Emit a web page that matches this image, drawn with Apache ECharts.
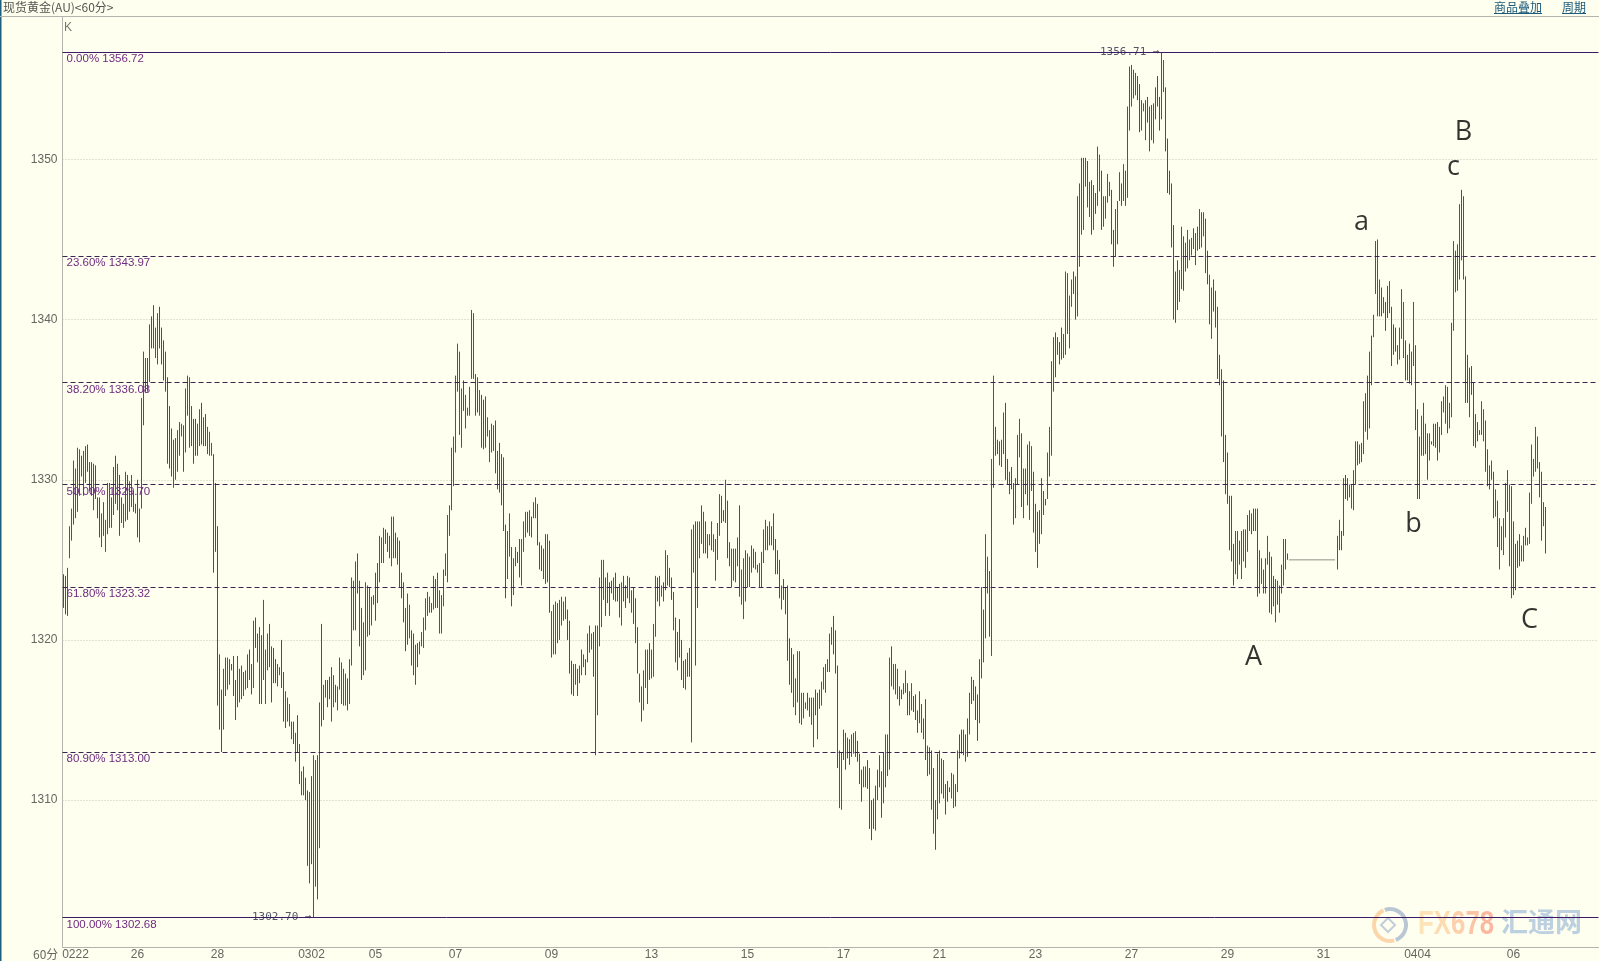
<!DOCTYPE html>
<html><head><meta charset="utf-8">
<style>html,body{margin:0;padding:0;background:#fffff0;overflow:hidden}#c{width:1599px;height:961px}</style>
<script src="https://cdn.jsdelivr.net/npm/echarts@6/dist/echarts.min.js"></script>
</head><body><div id="c"></div>
<script>
const highs = [
1324.1,1324.0,1324.5,1327.1,1328.2,1331.2,1330.7,1332,1331.9,1331.5,
1331.8,1332.1,1332.2,1331.1,1331.1,1331,1330.9,1328.9,1328.9,1327.9,
1328.6,1327.5,1329.8,1329.8,1328.9,1330.8,1331.5,1331,1330.3,1328.9,
1328.5,1330.5,1330.3,1329.9,1330.3,1329.3,1328.5,1330,1328.2,1335.1,
1338,1337.6,1337.6,1339.7,1340.2,1340.9,1339.5,1340.4,1340.8,1339.5,
1338.7,1338,1336.4,1334.6,1333.2,1332.5,1332.6,1333.1,1333.6,1333.5,
1333.4,1335.7,1336.5,1336.4,1334.6,1333.8,1333.8,1333.5,1334.4,1334.8,
1333.9,1334.1,1333.3,1333,1332.3,1331.6,1329.8,1327.1,1319.1,1316.9,
1318.2,1318.9,1318.9,1318.8,1318.5,1319,1317.5,1319,1318.2,1318.4,
1318,1318.1,1319.1,1319.4,1318.5,1321.2,1321.4,1320.4,1320.8,1320.3,
1322.5,1319.4,1320.4,1321,1319.6,1319.5,1318.8,1318.5,1318.3,1320,
1318,1316.8,1316.4,1316,1314.9,1314.9,1314.2,1315.3,1313.5,1311.8,
1312.1,1311.4,1310.6,1310.5,1311.5,1312.8,1312.5,1312.8,1316.1,1321,
1317.2,1317.5,1317.5,1317.7,1318.3,1317.8,1317.2,1317.1,1318.9,1318.6,
1318.2,1317.9,1317.6,1318.8,1323.9,1323.7,1324.9,1325.4,1323.7,1322,
1321.1,1323.6,1323.4,1323.3,1322.7,1322.8,1324.2,1324.8,1326.5,1326.4,
1327,1326.9,1326.7,1326.5,1327.7,1327.7,1326.7,1326.4,1326.2,1324.2,
1323.6,1322,1322.9,1322.2,1320.6,1320.4,1319.7,1319.8,1319.9,1320.5,
1321.4,1322.6,1323,1322.7,1322.3,1324,1323.8,1324.2,1323.1,1322.8,
1324.4,1325.4,1327.8,1328.4,1332,1332.7,1336.5,1338.5,1338,1335.7,
1336.2,1335.3,1334.5,1335.8,1340.6,1340.4,1336.6,1336.4,1335.6,1335.3,
1335,1335.2,1333.9,1333.1,1333.5,1333.4,1333.7,1331.8,1332.3,1331.6,
1331.4,1327.2,1326.8,1327.9,1325.8,1325.1,1325.8,1325.5,1326.3,1326.3,
1327.4,1328,1328,1328.1,1327.7,1328.6,1328.9,1328.5,1326.1,1325.9,
1325.7,1326.6,1326.6,1326.2,1321.8,1322.2,1322.4,1322.3,1322.5,1322.7,
1322.4,1322.7,1321.9,1321.2,1318.7,1318.5,1318.5,1318.2,1318.4,1319.4,
1319.1,1318.8,1320.4,1320.9,1320.4,1320.5,1320.9,1320.9,1323.9,1325,
1325,1323.9,1324.2,1323.6,1323.7,1323.9,1324.2,1323.3,1323.5,1323.6,
1324,1323.4,1324,1323.9,1323.1,1323.3,1322.6,1320.8,1317.9,1317.1,
1318.1,1319.4,1319.4,1319.8,1319.4,1321,1324,1323.9,1324,1323.4,
1323.6,1325.6,1325.3,1324.5,1323.9,1323,1321.4,1320.5,1321.3,1320,
1318.7,1318.8,1319.2,1319.5,1326.9,1327.2,1327.4,1327.4,1327.4,1328.4,
1328,1327.4,1326.6,1326.6,1327.4,1326.6,1326.3,1327.3,1329.1,1329,
1328.1,1330,1328.7,1326.1,1325.7,1325.7,1325.7,1326.4,1328.4,1324.4,
1325.1,1325.6,1325.4,1325.2,1325.9,1325.7,1325.5,1324.7,1324.8,1325.5,
1326.9,1327.5,1327.1,1327.4,1327.1,1327.9,1326.3,1325.6,1325,1323.4,
1323.8,1323.3,1323.4,1320.1,1319.5,1319.1,1317.6,1319.3,1319.3,1316.7,
1316.7,1316.1,1316.7,1316.4,1316.4,1316.4,1316.9,1316.7,1316.9,1317.4,
1318.3,1318.5,1318.8,1320.4,1320.8,1321.5,1320.6,1318.4,1313.1,1313,
1314.4,1314.2,1313.9,1313.8,1314.1,1314.2,1314.3,1313.7,1312.9,1311.9,
1312.1,1312.1,1312.5,1312,1310,1310.1,1310.9,1311.9,1312.8,1311.8,
1313,1314.1,1314.1,1318.9,1319.6,1318.5,1318.5,1318.2,1317.1,1316.9,
1317.3,1318.1,1317.3,1316.8,1317.3,1316.5,1316.6,1315.6,1316.8,1316,
1315.1,1316.3,1313.4,1313.3,1313.1,1312,1310,1312.9,1313.1,1312.6,
1312.5,1311,1311.2,1310.8,1311.7,1311.6,1311,1313.1,1314.1,1314.4,
1314.4,1314.1,1315.1,1316.7,1317.7,1317.5,1317.1,1316.6,1318.8,1323.3,
1321.9,1326.6,1325.2,1324.3,1331.3,1336.5,1333.3,1332.5,1332.4,1332.5,
1334.2,1334.8,1331.3,1330.5,1330.8,1329.8,1330.1,1332.8,1333.8,1332.9,
1330.7,1330.7,1332.2,1332.4,1332.1,1330.5,1328.5,1328,1328.1,1330.1,
1329.3,1328.8,1331.7,1333.3,1337.4,1338.9,1339.2,1338.9,1338.6,1339.5,
1339.1,1343,1342.9,1341.5,1342.5,1343,1342.7,1347.7,1348.5,1350.1,
1350.1,1350.1,1349.9,1348.6,1348.7,1348.4,1347.9,1350.8,1350.3,1349.3,
1347.7,1347.7,1349.1,1348.6,1348.1,1345.6,1346.9,1347.4,1349.2,1348.5,
1349.7,1349.3,1353.3,1355.8,1355.9,1355.6,1355.4,1355.2,1354.7,1353.7,
1353.5,1353.7,1353.9,1353.3,1353.4,1353.5,1354.5,1355.2,1353.9,1356.7,
1356.2,1354.5,1351.3,1349.3,1348.5,1345.9,1343,1343.7,1343.1,1345.8,
1345.2,1344.8,1345.6,1345,1345.1,1345.7,1345.4,1345.8,1346.9,1346.7,
1346.7,1346.3,1344.3,1342.8,1342,1342.5,1341.8,1340.8,1337.8,1336.9,
1336.2,1332.8,1331.7,1329,1329,1326,1326.8,1326.8,1326.2,1326.8,
1326.9,1326.9,1327.8,1328.1,1327.9,1328.2,1328.2,1328.2,1325.6,1325.1,
1324.4,1325.1,1326.5,1325.5,1325.2,1324,1323.8,1323.7,1323.4,1324.7,
1326.3,1326.3,1325.4,1325,1325,1325,1325,1325,1325,1325,
1325,1325,1325,1325,1325,1325,1325,1325,1325,1325,
1325,1325,1325,1325,1325,1325,1325,1326.5,1327.5,1326.8,
1330.1,1330.3,1330.1,1329.7,1329.7,1330.6,1332.4,1332.4,1332.2,1332.3,
1334.9,1335.4,1336.5,1338,1339,1340.3,1344.9,1345,1342.5,1342,
1341.4,1341.1,1342.1,1342.4,1340.8,1339.7,1339.5,1338.4,1339.5,1341.9,
1341.1,1338.7,1337.8,1338.5,1338,1341.1,1338.4,1334.4,1332.7,1334,
1334.8,1333.5,1332.9,1332.9,1332.4,1333.5,1333.5,1333.6,1333.3,1334.9,
1335.2,1335.9,1335.8,1334.8,1339.8,1344.9,1344.3,1344.7,1347.2,1348.1,
1347.7,1342.7,1337.8,1337,1337.1,1336.1,1334.1,1333.6,1333.1,1334.9,
1334.4,1333.7,1331.9,1330.9,1331.2,1330.5,1329.4,1328.7,1327.6,1327.1,
1327.6,1329.8,1330.6,1329.7,1329.6,1327.4,1326,1326.2,1326.6,1325.9,
1326.5,1327,1326.4,1329.2,1332.2,1331.3,1333.3,1332.7,1331.1,1330.5,1328.6,1328.3
];
const lows = [
1322.0,1321.6,1321.5,1325.1,1326.2,1327.2,1327.6,1328,1329,1330.2,
1329,1329.8,1330.5,1329.3,1329,1328.1,1328.8,1327.6,1326.4,1325.8,
1326.5,1325.5,1326.6,1327,1327,1327.8,1328.5,1328.1,1326.5,1327.3,
1327,1327.4,1327.5,1328,1328.3,1328,1327.9,1326.4,1326.1,1328.2,
1333.4,1335.5,1335.5,1336.1,1338.2,1338.2,1337.6,1337.2,1338.2,1337.2,
1336.2,1335.5,1331,1330.7,1330.2,1329.5,1330,1330.5,1331.5,1332.7,
1330.5,1331.7,1334,1332,1332.1,1331,1331.5,1331.5,1332.1,1332.2,
1332.1,1332.1,1331.6,1331.5,1331.5,1324.2,1325.5,1315.9,1314.4,1313,
1314.4,1316.5,1316.9,1317.2,1318.1,1316.5,1315,1315.8,1316.1,1316.3,
1316.5,1316.9,1317,1317.5,1316.6,1317,1319.5,1318.6,1316,1316,
1317.5,1316,1318.1,1318.3,1316.1,1317.3,1317.3,1317.1,1317.8,1317,
1314.9,1314.5,1314.9,1314.6,1313.8,1313.5,1312.4,1313,1311,1310.3,
1310.3,1310,1305.9,1304.8,1306,1302.7,1304.6,1303.8,1307,1314.6,
1315,1316.4,1315.8,1316.3,1314.9,1315.8,1316.1,1315.6,1316.9,1316,
1315.9,1315.9,1315.6,1316,1318.4,1320.6,1320.6,1322.9,1319.6,1317.5,
1317.8,1318.1,1320.2,1320.3,1320.9,1322.2,1321.2,1322.3,1323.6,1324.8,
1324.8,1326,1325.5,1325.1,1324.6,1325.1,1325.1,1324.7,1323.3,1322.6,
1321.1,1319.3,1319.7,1320.1,1318.4,1317.8,1317.2,1318.3,1319.1,1319.6,
1319.5,1320.6,1321.5,1321.7,1321.7,1321.9,1322,1322,1320.4,1320.4,
1322.1,1324,1323.6,1326.5,1328.1,1329.6,1331.7,1335.5,1332.8,1332,
1334.3,1333.2,1334,1334,1336.3,1336.3,1334,1334.2,1334,1332,
1331.9,1332,1332.7,1331.1,1331.7,1331.8,1330.4,1329.4,1329.2,1328.4,
1326.8,1322.6,1323.8,1325.2,1322.1,1322.8,1324.6,1324.8,1323.9,1323.4,
1325.5,1326.4,1326.7,1326.5,1326.4,1327.6,1327.6,1325.9,1324.4,1324.3,
1323.8,1323.5,1323.6,1321.7,1318.9,1319.1,1319.1,1319.8,1320,1320.9,
1321.2,1321.3,1320,1317.9,1316.6,1316.5,1317.2,1316.5,1317.3,1317.8,
1318.3,1317.8,1318.6,1319.2,1319.4,1317.7,1312.8,1315.3,1319.6,1320.8,
1322.5,1321.5,1322.3,1321.5,1322.9,1322.5,1322.4,1322.4,1321.4,1320.9,
1322.4,1322,1322.6,1322.3,1321.7,1321,1319.8,1317.9,1316.1,1314.9,
1315.6,1317,1316,1317.5,1317.6,1317.7,1320.2,1322.4,1322.1,1322.7,
1322.4,1323.1,1323.4,1323.3,1322.5,1320.6,1318.6,1318.1,1318.9,1317.5,
1317,1316.9,1317.7,1317.7,1313.6,1324.2,1318.4,1322,1325.1,1326,
1325.4,1325.4,1325.1,1325.9,1325.6,1325.5,1323.7,1325,1326.5,1327.3,
1327.4,1327.3,1325.1,1324.6,1323.3,1323.7,1323.6,1324.6,1322.7,1322.2,
1321.3,1322.4,1323.3,1323.3,1324.2,1324.5,1324.4,1324.2,1323.3,1323.3,
1324.8,1325.6,1325.6,1325.9,1325.9,1325.6,1324.1,1324.1,1322.6,1321.9,
1322.5,1321.6,1318.7,1317.2,1316.7,1315.8,1315.3,1316.1,1314.8,1314.7,
1315.1,1315.7,1315.6,1315.2,1314.7,1313.3,1315.3,1313.8,1315.7,1315.9,
1316.9,1316.7,1318,1318,1319.7,1319.1,1317.9,1312,1309.5,1309.4,
1312.5,1311.9,1312.6,1312.2,1312.7,1312.9,1312.7,1312.4,1311,1309.9,
1310.8,1310.8,1310.7,1308.2,1307.5,1308.2,1308.1,1310,1310.8,1308.9,
1309.8,1310.8,1311.5,1311.9,1317.1,1316.9,1316.6,1316.3,1315.9,1316.3,
1316.6,1316.7,1315.3,1315.3,1315.6,1315.5,1315,1314.2,1314.8,1314.2,
1313.8,1312.5,1311.5,1311.6,1309.4,1307.9,1306.9,1308.8,1309.8,1310.4,
1310.1,1309.1,1309.9,1310.5,1310.1,1309.5,1309.6,1310.5,1312.6,1312.9,
1312.8,1312.4,1312.7,1314.1,1316,1316.2,1315,1313.7,1314.8,1317.6,
1318.6,1320.1,1322.9,1320.2,1319,1329.5,1331.5,1331.6,1330.9,1330.8,
1331.6,1330,1329.7,1329.1,1329.4,1327.2,1327.6,1329.7,1331.4,1328.3,
1327.6,1329.1,1328.4,1327.5,1329.3,1326.7,1325.5,1324.5,1326,1326.6,
1327.8,1328.4,1328.8,1330.2,1331.5,1335.5,1336.4,1337.8,1337.2,1337.5,
1337.6,1337.8,1339.1,1338.2,1340.8,1341.6,1340,1340.2,1343.3,1345.3,
1345.6,1348.3,1347,1346.4,1345.3,1345.6,1346.6,1347.1,1348,1345.6,
1345.8,1346.3,1347.3,1347.7,1344.7,1343.3,1343.9,1344.7,1347.4,1347.1,
1347.4,1347.1,1347.6,1351.8,1353.3,1353.8,1354,1353.7,1351.7,1351.8,
1353,1351.2,1352.3,1350.5,1351.2,1351,1352.5,1353.3,1351.8,1352.5,
1354.2,1350.5,1347.9,1347.8,1344.5,1340,1339.8,1340.6,1341.1,1341.9,
1341.8,1343,1343.2,1343.7,1344,1344.4,1343.4,1344.3,1344.4,1344.5,
1345.2,1342.9,1342.2,1339.7,1338.8,1340.5,1339.5,1336.3,1335.9,1332.7,
1331.1,1329.1,1328.5,1325.6,1324.9,1323.4,1324.1,1323.8,1324.7,1323.8,
1324.9,1324.5,1325.5,1326.8,1326.6,1326.8,1326.8,1322.7,1322.9,1323.5,
1322.9,1322.9,1324.7,1321.7,1321.6,1322.1,1321.1,1322.2,1321.7,1322.9,
1323.4,1324.4,1325,1325,1325,1325,1325,1325,1325,1325,
1325,1325,1325,1325,1325,1325,1325,1325,1325,1325,
1325,1325,1325,1325,1325,1325,1325,1324.4,1325.6,1325.6,
1326.5,1328.8,1328.7,1328.9,1328.2,1328.1,1329.7,1330.9,1331,1331.1,
1331.6,1333,1332.5,1333.2,1335.9,1338.9,1341.6,1340.2,1340.2,1340.2,
1340.4,1339.3,1340.1,1340.4,1337.1,1337.8,1338,1337.2,1337.5,1338.8,
1337.6,1336.2,1336.2,1336,1335.9,1337.1,1333.1,1328.8,1328.8,1331.5,
1331.5,1331.6,1330,1331.2,1332.2,1332.1,1332,1331.2,1331.7,1332.8,
1334.2,1333.5,1332.9,1333.2,1333.9,1339.3,1341.7,1341.8,1342.5,1343.7,
1342.5,1334.8,1334.8,1333.9,1335.3,1332.1,1332,1332.4,1332.8,1332.8,
1332.4,1330.5,1329.6,1329.4,1330,1327.6,1327.7,1325.8,1324.4,1325.6,
1325.3,1326.4,1328,1324.6,1322.6,1322.8,1323.1,1324.5,1324.6,1324.9,
1324.9,1325.9,1325.9,1326,1328.5,1330.2,1330.5,1330.7,1328.9,1326.2,1327.1,1325.4
];
// r = up bar, g = down bar, f = flat (no trading)
const sides = [
"ggrrrrrrrg","rrgggrgggr","grrrgrgrgg","rrgrrgggrr","rrgrggrrgg","gggggrrrrr","grrrgggrrg","rgrrrggggg",
"rrrrgggrrr","rrrggrggrg","rrrggggrrg","grrrggrggr","rggrgrrgrg","rrggrrgrrr","rrgrrrrggg","rrrrrrgrrr",
"rrggrrgrgg","ggrrggrgrr","rrrrgrggrr","rrrrrrrrrr","grrrrrggrg","ggrrrrgrgg","ggrrgrrggr","rrgrgrrggg",
"ggrgrrrrrr","rrgggrrrrr","rgrrrggrrr","rgrggrgrgr","ggrrrggggg","rrrgrrrgrr","rrrggggggg","rrrrrrgrrg",
"rgrrrrgrrg","grggrrrrgr","rrrrrgrgrr","rrgrrggggr","ggggggrrrr","rrggrrgrgr","rrrrrgggrr","rggrrrrggg",
"rrggggrrgg","rrrrgrrrgg","rrggrgggrr","ggrrrggrrg","rggrrrgrgg","rgrrrgggrr","rrrgrrggrr","rggrggrrrg",
"rrgrrggggr","rgrrrrgrgg","rrrrrggrrr","rrgrgrgrrg","rrrrggrrrg","rgrrrrrggr","rrggrrrggr","rgggggggrr",
"grrrrgrrrr","rggrrggggg","ggggggrrgr","rrrrrgrgrr","rrrgggrrrr","rrgfffffff","ffffffffff","fffffffrrg",
"rggrrrrggg","rrgrrrrrrg","rggrgggrrr","rgrgrrggrr","grgrrrggrr","rrgrrrrrrr","rggrggggrr","rggrrgrgrr",
"rrgrrrgrgr","rgrrrrrrggrg"
].join("");
const dateBars = [6,37,77,124,156,196,244,294,342,390,438,486,534,582,630,677,725];
const dateLabels = ["0222","26","28","0302","05","07","09","13","15","17","21","23","27","29","31","0404","06"];
const priceTicks = [1310,1320,1330,1340,1350];
const fibPercents = ["0.00%","23.60%","38.20%","50.00%","61.80%","80.90%","100.00%"];
const fibPrices = [1356.72,1343.97,1336.08,1329.70,1323.32,1313.00,1302.68];
const waveNames = ["A","a","b","c","B","C"];
const waveBars = [595,649,675,695,700,733];
const wavePrices = [1318.9,1346.1,1327.2,1349.5,1351.7,1321.2];
const extremeBars = [125,549];
const extremePrices = [1302.70,1356.71];

const UP = "#a8322a", DOWN = "#1a751a", BG = "#fffff0", AXIS = "#b4b4ac", TXT = "#666660";
const SLOTS = 768;
const categories = new Array(SLOTS).fill("");
dateBars.forEach((b, i) => { categories[b] = dateLabels[i]; });

const bars = highs.map((h, i) => {
  const l = lows[i], s = sides[i];
  if (s === "f") return [null, null, null, null];
  return s === "r" ? [l, h, l, h] : [h, l, l, h];
});
// the no-trading stretch is a thin dotted run at the flat price
const flatRun = highs.map((h, i) => (sides[i] === "f" ? h : null));

const fibLines = fibPrices.map((p, i) => {
  const solid = i === 0 || i === fibPrices.length - 1;
  return {
    yAxis: p,
    lineStyle: { color: solid ? "#3d1a66" : "#3a2450", width: 1, type: solid ? "solid" : [5, 3] },
    label: {
      show: true, position: "insideStartBottom", distance: [4, 1],
      formatter: fibPercents[i] + " " + p.toFixed(2),
      color: "#6e2a80", fontFamily: "Liberation Sans", fontSize: 11.5
    }
  };
});

const fxLetters = ["F", "X", "6", "7", "8"];
const fxColors = ["#fde4b8", "#fddcb2", "#fcd0ac", "#fcc4a6", "#fbb8a0"];
const fxX = [1418, 1433.8, 1451, 1465.4, 1479.8];

const chart = echarts.init(document.getElementById("c"), null, { renderer: "canvas" });
chart.setOption({
  animation: false,
  backgroundColor: BG,
  grid: { left: 62.5, right: 0.5, top: 17, bottom: 14, show: false },
  xAxis: {
    type: "category", data: categories, boundaryGap: true,
    axisLine: { lineStyle: { color: AXIS, width: 1 } },
    axisTick: { show: false },
    axisLabel: { interval: (i, v) => v !== "", color: TXT, fontFamily: "Liberation Sans", fontSize: 12, margin: 2, hideOverlap: false },
    splitLine: { show: false }
  },
  yAxis: {
    type: "value", min: 1300.83, max: 1358.89, position: "left",
    axisLine: { show: true, onZero: false, lineStyle: { color: AXIS, width: 1 } },
    axisTick: { show: false, customValues: priceTicks },
    axisLabel: { customValues: priceTicks, formatter: v => String(v), color: TXT, fontFamily: "Liberation Sans", fontSize: 12, margin: 5 },
    splitLine: { show: true, lineStyle: { color: "#c6c6b4", width: 1, type: [1, 2] } }
  },
  series: [
    {
      type: "candlestick", data: bars, barWidth: 1, silent: true, large: true, largeThreshold: 1,
      itemStyle: { color: UP, color0: DOWN, borderColor: UP, borderColor0: DOWN, borderWidth: 1 },
      markLine: { silent: true, symbol: "none", animation: false, data: fibLines, z: 5 }
    },
    {
      type: "line", data: flatRun, silent: true, symbol: "none", connectNulls: false,
      lineStyle: { color: "#222", width: 1, type: [1, 1] }
    },
    {
      type: "scatter", silent: true, symbolSize: 0, z: 6,
      data: extremeBars.map((b, i) => [b, extremePrices[i]]),
      label: {
        show: true, position: "left", distance: 2,
        formatter: p => p.value[1].toFixed(2) + " \u2192",
        color: "#2b2b48", fontFamily: "DejaVu Sans Mono", fontSize: 11
      }
    },
    {
      type: "scatter", silent: true, symbolSize: 0, z: 7,
      data: waveBars.map((b, i) => ({ name: waveNames[i], value: [b, wavePrices[i]] })),
      label: {
        show: true, position: "inside", formatter: "{b}",
        color: "#000", fontFamily: "Open Sans", fontSize: 27
      }
    }
  ],
  graphic: [
    { type: "rect", shape: { x: 0, y: 0, width: 1.5, height: 961 }, style: { fill: "#1f5f7f" }, z: 20 },
    { type: "rect", shape: { x: 0, y: 16, width: 1599, height: 1 }, style: { fill: AXIS }, z: 20 },
    { type: "text", x: 3, y: 1, z: 20, style: { text: "现货黄金(AU)<60分>", fill: "#555550", font: "12px 'Noto Sans CJK SC'" } },
    { type: "text", x: 1494, y: 1, z: 20, style: { text: "商品叠加", fill: "#1b5a7a", font: "12px 'Noto Sans CJK SC'" } },
    { type: "rect", shape: { x: 1494, y: 13, width: 48, height: 1 }, style: { fill: "#1b5a7a" }, z: 20 },
    { type: "text", x: 1562, y: 1, z: 20, style: { text: "周期", fill: "#1b5a7a", font: "12px 'Noto Sans CJK SC'" } },
    { type: "rect", shape: { x: 1562, y: 13, width: 24, height: 1 }, style: { fill: "#1b5a7a" }, z: 20 },
    { type: "text", x: 64, y: 22, z: 20, style: { text: "K", fill: "#777770", font: "12px 'Liberation Sans'" } },
    { type: "text", x: 33, y: 948, z: 20, style: { text: "60分", fill: "#666660", font: "12px 'Noto Sans CJK SC'" } },
    // watermark
    { type: "arc", z: 1, shape: { cx: 1390, cy: 925, r: 16, startAngle: -1.9, endAngle: 1.2, clockwise: true }, style: { stroke: "#b9c6d4", fill: null, lineWidth: 4 } },
    { type: "arc", z: 1, shape: { cx: 1390, cy: 925, r: 16, startAngle: 1.3, endAngle: 4.3, clockwise: true }, style: { stroke: "#fbd6ab", fill: null, lineWidth: 4 } },
    { type: "polygon", z: 1, shape: { points: [[1388, 918], [1395, 925], [1388, 932], [1381, 925]] }, style: { stroke: "#c3cedb", fill: null, lineWidth: 2 } },
    ...fxLetters.map((t, i) => ({ type: "text", x: fxX[i], y: 908, z: 1, scaleX: 0.76,
      style: { text: t, fill: fxColors[i], font: "bold 34px 'Liberation Sans'" } })),
    { type: "text", x: 1501, y: 908, z: 1, style: { text: "汇通网", fill: "#bcd0e0", font: "bold 27px 'Noto Sans CJK SC'" } }
  ]
});
</script></body></html>
